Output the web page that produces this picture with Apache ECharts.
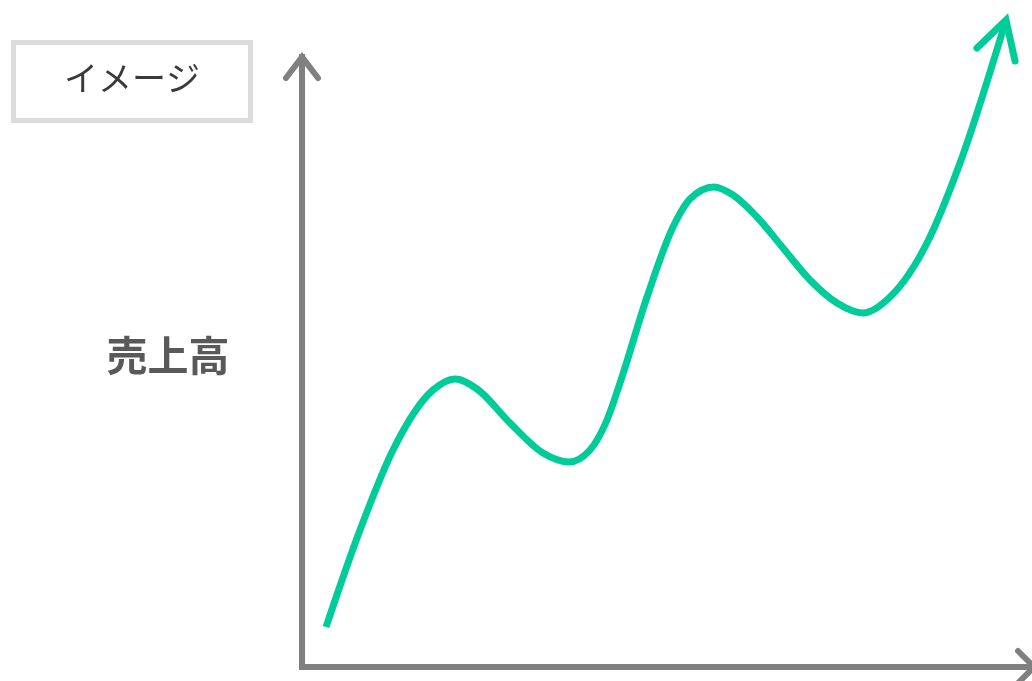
<!DOCTYPE html>
<html>
<head>
<meta charset="utf-8">
<script src="https://cdn.jsdelivr.net/npm/echarts@6/dist/echarts.min.js"></script>
<style>html,body{margin:0;padding:0;background:#fff}#c{width:1032px;height:681px}</style>
</head>
<body>
<div id="c"></div>
<script>
// Curve (image of sales growth), in axis units
const curveX = [24, 58, 91, 131, 153, 175, 208, 241, 267, 288, 305, 318, 345, 371, 388, 412, 431, 455, 481, 508, 535, 561, 588, 625, 658, 704];
const curveY = [40, 137, 217, 277, 288, 278, 244, 214, 205, 217, 247, 284, 370, 440, 468, 480, 472, 450, 419, 387, 364, 354, 370, 424, 504, 647];
// Arrow head on the curve end (decoration), in axis units
const curveArrowX = [675, 704, 713];
const curveArrowY = [619, 647, 606];
const xMax = 730, yMax = 610;
const boxLabel = 'イメージ';
const yLabel = '売上高';

const zip = (a, b) => a.map((v, i) => [v, b[i]]);
const chart = echarts.init(document.getElementById('c'), null, {renderer: 'canvas'});
const GREEN = '#00cc99', GREY = '#808080';

// Monotone-in-x cubic path through pixel points
function monotonePath(pts) {
  const n = pts.length;
  const s = [];
  for (let i = 0; i < n - 1; i++) s.push((pts[i + 1][1] - pts[i][1]) / (pts[i + 1][0] - pts[i][0]));
  const t = new Array(n);
  const sign = v => (v > 0 ? 1 : v < 0 ? -1 : 0);
  for (let i = 1; i < n - 1; i++) {
    const h0 = pts[i][0] - pts[i - 1][0], h1 = pts[i + 1][0] - pts[i][0];
    const p = (s[i - 1] * h1 + s[i] * h0) / (h0 + h1);
    t[i] = (sign(s[i - 1]) + sign(s[i])) * Math.min(Math.abs(s[i - 1]), Math.abs(s[i]), 0.5 * Math.abs(p)) || 0;
  }
  t[0] = (3 * s[0] - t[1]) / 2;
  t[n - 1] = (3 * s[n - 2] - t[n - 2]) / 2;
  let d = 'M' + pts[0][0] + ' ' + pts[0][1];
  for (let i = 0; i < n - 1; i++) {
    const dx = (pts[i + 1][0] - pts[i][0]) / 3;
    d += ' C' + (pts[i][0] + dx) + ' ' + (pts[i][1] + dx * t[i]) + ' ' +
      (pts[i + 1][0] - dx) + ' ' + (pts[i + 1][1] - dx * t[i + 1]) + ' ' +
      pts[i + 1][0] + ' ' + pts[i + 1][1];
  }
  return d;
}

const textGraphics = [
  {id: 'box', type: 'rect', shape: {x: 13.5, y: 42.5, width: 237, height: 78},
    style: {fill: '#fff', stroke: '#dcdcdc', lineWidth: 5}},
  {id: 'boxText', type: 'text', x: 132, y: 78, style: {text: boxLabel, fill: '#3a3a3a', fontSize: 34,
    fontFamily: '"Noto Sans CJK JP", sans-serif', align: 'center', verticalAlign: 'middle'}},
  {id: 'yText', type: 'text', x: 168, y: 355, style: {text: yLabel, fill: '#595959', fontSize: 41, fontWeight: 'bold',
    fontFamily: '"Noto Sans CJK JP", sans-serif', align: 'center', verticalAlign: 'middle'}}
];
chart.setOption({
  animation: false,
  grid: {left: 302, right: 0, top: 57, bottom: 14, containLabel: false},
  xAxis: {type: 'value', min: 0, max: xMax, axisLine: {show: true, onZero: false, lineStyle: {color: GREY, width: 6, cap: 'square'}},
    axisTick: {show: false}, axisLabel: {show: false}, splitLine: {show: false}},
  yAxis: {type: 'value', min: 0, max: yMax, axisLine: {show: true, onZero: false, lineStyle: {color: GREY, width: 6, cap: 'square'}},
    axisTick: {show: false}, axisLabel: {show: false}, splitLine: {show: false}},
  series: [
    {type: 'custom', data: zip(curveX, curveY), clip: false, z: 3,
      renderItem: function (params, api) {
        if (params.dataIndex !== 0) return null;
        const pts = curveX.map((x, i) => api.coord([x, curveY[i]]));
        return {type: 'path', shape: {pathData: monotonePath(pts)},
          style: {stroke: GREEN, lineWidth: 7, fill: null, lineCap: 'butt', lineJoin: 'round'}};
      }},
    {type: 'line', data: zip(curveArrowX, curveArrowY), showSymbol: false, clip: false,
      lineStyle: {color: GREEN, width: 7, cap: 'round', join: 'miter'}, z: 3}
  ],
  graphic: textGraphics
});
// Axis arrowheads placed at the ends of the axes (computed through the grid)
const yTip = chart.convertToPixel({gridIndex: 0}, [0, yMax]);
const xTip = chart.convertToPixel({gridIndex: 0}, [xMax, 0]);
const head = 16, back = 21;
chart.setOption({
  graphic: textGraphics.concat([
    {id: 'yArrow', type: 'polyline', z: 5,
      shape: {points: [[yTip[0] - head, yTip[1] + back], [yTip[0], yTip[1]], [yTip[0] + head, yTip[1] + back]]},
      style: {stroke: GREY, lineWidth: 6, lineCap: 'round', lineJoin: 'miter', fill: null}},
    {id: 'xArrow', type: 'polyline', z: 5,
      shape: {points: [[xTip[0] - 14, xTip[1] - 16], [xTip[0] + 2, xTip[1]], [xTip[0] - 14, xTip[1] + 16]]},
      style: {stroke: GREY, lineWidth: 6, lineCap: 'round', lineJoin: 'miter', fill: null}}
  ])
});
</script>
</body>
</html>
